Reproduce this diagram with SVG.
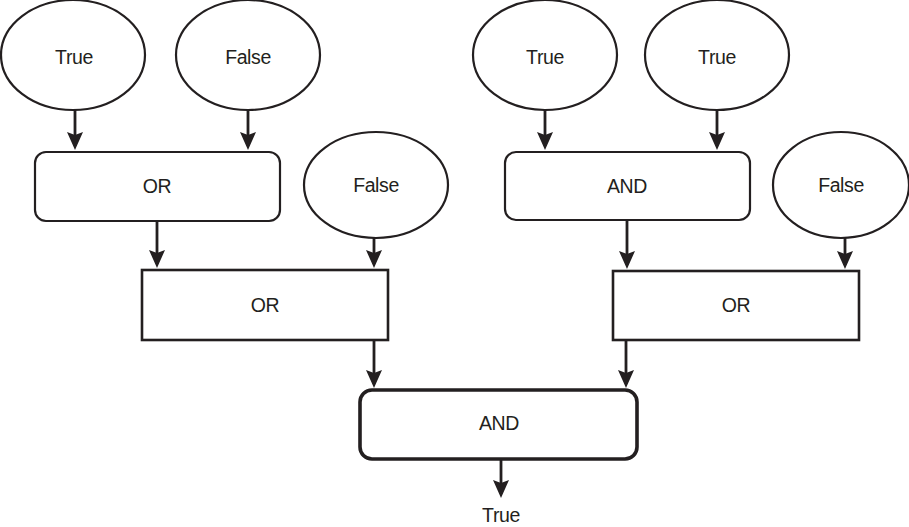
<svg xmlns="http://www.w3.org/2000/svg" width="909" height="527" viewBox="0 0 909 527">
  <defs>
    <style>
      .node ellipse, .node rect { fill: #fff; stroke: #231f20; stroke-width: 2.2; }
      .node rect.sq { stroke-width: 2.6; }
      .node rect.final { stroke-width: 3.6; }
      .node text, text.out { font-family: "Liberation Sans", Arial, sans-serif; font-size: 19.5px; fill: #231f20; text-anchor: middle; letter-spacing: -0.4px; }
      .links line { stroke: #231f20; stroke-width: 2.8; marker-end: url(#arrow); }
    </style>
    <marker id="arrow" viewBox="0 0 18 16" refX="14" refY="8" markerWidth="18" markerHeight="16" markerUnits="userSpaceOnUse" orient="auto">
      <path d="M0,0 L18,8 L0,16 L3,8 Z" fill="#231f20"/>
    </marker>
  </defs>

  <!-- connectors -->
  <g class="links">
    <line x1="75" y1="110" x2="75" y2="146"/>
    <line x1="248" y1="110" x2="248" y2="146"/>
    <line x1="157" y1="221" x2="157" y2="264"/>
    <line x1="374" y1="237" x2="374" y2="264"/>
    <line x1="545" y1="110" x2="545" y2="146"/>
    <line x1="717" y1="110" x2="717" y2="146"/>
    <line x1="627" y1="220" x2="627" y2="265"/>
    <line x1="845" y1="238" x2="845" y2="265"/>
    <line x1="374" y1="340" x2="374" y2="384"/>
    <line x1="626" y1="340" x2="626" y2="384"/>
    <line x1="501" y1="460" x2="501" y2="494"/>
  </g>

  <!-- inputs, top row -->
  <g id="in-true-1" class="node">
    <ellipse cx="73" cy="55" rx="72" ry="55"/>
    <text x="74" y="64">True</text>
  </g>
  <g id="in-false-1" class="node">
    <ellipse cx="248" cy="55" rx="72" ry="55"/>
    <text x="248" y="64">False</text>
  </g>
  <g id="in-true-2" class="node">
    <ellipse cx="545" cy="55" rx="72" ry="55"/>
    <text x="545" y="64">True</text>
  </g>
  <g id="in-true-3" class="node">
    <ellipse cx="717" cy="55" rx="72" ry="55"/>
    <text x="717" y="64">True</text>
  </g>

  <!-- first gates -->
  <g id="gate-or-1" class="node">
    <rect x="35" y="152" width="245" height="69" rx="11"/>
    <text x="157" y="193">OR</text>
  </g>
  <g id="gate-and-1" class="node">
    <rect x="505" y="152" width="245" height="68" rx="11"/>
    <text x="627" y="193">AND</text>
  </g>

  <!-- inputs, second row -->
  <g id="in-false-2" class="node">
    <ellipse cx="376" cy="185" rx="72" ry="53"/>
    <text x="376" y="192">False</text>
  </g>
  <g id="in-false-3" class="node">
    <ellipse cx="841" cy="185" rx="68" ry="53"/>
    <text x="841" y="192">False</text>
  </g>

  <!-- second gates -->
  <g id="gate-or-2" class="node">
    <rect class="sq" x="142" y="270" width="246" height="70"/>
    <text x="265" y="312">OR</text>
  </g>
  <g id="gate-or-3" class="node">
    <rect class="sq" x="613" y="271" width="246" height="69"/>
    <text x="736" y="312">OR</text>
  </g>

  <!-- final gate -->
  <g id="gate-and-final" class="node">
    <rect class="final" x="360" y="390" width="277" height="69" rx="12"/>
    <text x="499" y="430">AND</text>
  </g>

  <text class="out" x="501" y="522">True</text>
</svg>
